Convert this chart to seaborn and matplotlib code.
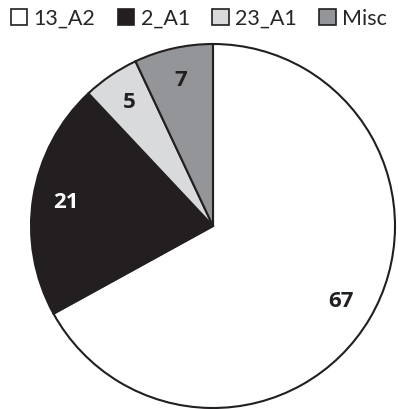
import matplotlib
matplotlib.use("Agg")
import matplotlib.pyplot as plt
import seaborn as sns
from matplotlib.patches import Patch

categories = ["13_A2", "2_A1", "23_A1", "Misc"]
values = [67, 21, 5, 7]
colors = ["#ffffff", "#231f20", "#d9dadb", "#939598"]
label_colors = ["#231f20", "#ffffff", "#231f20", "#231f20"]

sns.set_theme(style="white")
plt.rcParams['font.family'] = ['Lato', 'DejaVu Sans']

fig = plt.figure(figsize=(3.98, 4.09), dpi=100)
ax = fig.add_axes([31/398, 1/409, 364/398, 364/409])

wedges, texts = ax.pie(values, colors=colors, startangle=90, counterclock=False,
                       labels=[str(v) for v in values], labeldistance=0.82,
                       wedgeprops=dict(edgecolor="#231f20", linewidth=1.5),
                       textprops=dict(fontsize=16, fontweight="bold",
                                      family=["Open Sans", "DejaVu Sans"]))
for t, c in zip(texts, label_colors):
    t.set_color(c)
    t.set_ha("center")
    t.set_va("center")
for w in wedges:
    w.set_clip_on(False)
ax.set_xlim(-1, 1)
ax.set_ylim(-1, 1)
ax.set_aspect("equal")
ax.axis("off")

handles = [Patch(facecolor=c, edgecolor="#231f20", linewidth=1.2) for c in colors]
fig.legend(handles, categories, loc="upper center", bbox_to_anchor=(0.5, 1.01),
           ncol=4, frameon=False, fontsize=15.5, handlelength=0.75, handleheight=0.75,
           handletextpad=0.3, columnspacing=1.05, borderaxespad=0.2)

fig.savefig("out.png", dpi=100)
